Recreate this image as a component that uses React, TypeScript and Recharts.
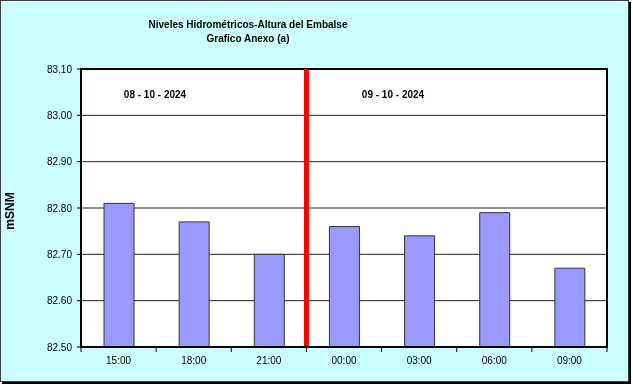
import React from 'react';
import { ComposedChart, Bar, XAxis, YAxis, CartesianGrid, ReferenceLine, ReferenceArea } from 'recharts';

const times = ['15:00', '18:00', '21:00', '00:00', '03:00', '06:00', '09:00'];
const levels = [82.81, 82.77, 82.7, 82.76, 82.74, 82.79, 82.67];
const yTicks = [82.5, 82.6, 82.7, 82.8, 82.9, 83.0, 83.1];
const dayLabels = ['08 - 10 - 2024', '09 - 10 - 2024'];
const dayBoundary = 2.5;
const titleLines = ['Niveles Hidrométricos-Altura del Embalse', 'Grafico Anexo (a)'];
const yLabel = 'mSNM';

const data = times.map((t, i) => ({ pos: i, time: t, level: levels[i] }));
const xTicks = times.flatMap((_, i) => [i - 0.5, i]).concat([times.length - 0.5]);

const FONT = '"Liberation Sans", Arial, sans-serif';

function XTick(props: any) {
  const { x, y, payload } = props;
  const v = payload.value;
  if (Number.isInteger(v)) {
    return (
      <text x={x} y={y + 17} textAnchor="middle" fontSize={10} fill="#000" fontFamily={FONT}>
        {times[v]}
      </text>
    );
  }
  return <line x1={x} x2={x} y1={y} y2={y + 5} stroke="#000" strokeWidth={1} />;
}

export default function App() {
  return (
    <div style={{ position: 'fixed', left: 0, top: 0, width: 633, height: 386, fontFamily: FONT }}>
      <div
        style={{
          position: 'absolute',
          left: 0,
          top: 0,
          width: 627,
          height: 380,
          background: '#CCFFFF',
          border: '1px solid #404040',
          boxShadow: '2px 2px 0 #000',
        }}
      />
      <ComposedChart
        width={633}
        height={386}
        data={data}
        margin={{ top: 69, right: 26, bottom: 9, left: 0 }}
        style={{ position: 'absolute', left: 0, top: 0 }}
      >
        <CartesianGrid horizontal vertical={false} stroke="#222" fill="#fff" strokeOpacity={1} />
        <XAxis
          dataKey="pos"
          type="number"
          domain={[-0.5, times.length - 0.5]}
          ticks={xTicks}
          interval={0}
          tick={<XTick />}
          tickLine={false}
          tickSize={0}
          tickMargin={0}
          height={30}
          axisLine={{ stroke: '#000', strokeWidth: 2 }}
        />
        <YAxis
          type="number"
          domain={[82.5, 83.1]}
          ticks={yTicks}
          interval={0}
          width={81}
          tickSize={4}
          tickMargin={5}
          tickFormatter={(v: number) => v.toFixed(2)}
          tick={{ fontSize: 10, fill: '#000', fontFamily: FONT }}
          tickLine={{ stroke: '#000' }}
          axisLine={{ stroke: '#000', strokeWidth: 2 }}
        />
        <Bar dataKey="level" fill="#9999FF" stroke="#333" strokeWidth={1} barSize={30} isAnimationActive={false} />
        <ReferenceLine x={dayBoundary} stroke="#FF0000" strokeWidth={5} />
        <ReferenceArea
          x1={-0.5}
          x2={times.length - 0.5}
          y1={82.5}
          y2={83.1}
          fill="none"
          fillOpacity={0}
          stroke="#000"
          strokeWidth={2}
          strokeOpacity={1}
        />
      </ComposedChart>
      {titleLines.map((t, i) => (
        <div
          key={t}
          style={{
            position: 'absolute',
            left: 148,
            width: 200,
            top: 19 + i * 14,
            textAlign: 'center',
            fontSize: 10,
            fontWeight: 'bold',
            lineHeight: '12px',
            whiteSpace: 'nowrap',
            color: '#000',
          }}
        >
          {t}
        </div>
      ))}
      {dayLabels.map((t, i) => (
        <div
          key={t}
          style={{
            position: 'absolute',
            left: i === 0 ? 105 : 343,
            width: 100,
            top: 89,
            textAlign: 'center',
            fontSize: 10,
            fontWeight: 'bold',
            lineHeight: '12px',
            whiteSpace: 'nowrap',
            color: '#000',
          }}
        >
          {t}
        </div>
      ))}
      <div
        style={{
          position: 'absolute',
          left: 10 - 25,
          top: 211 - 7,
          width: 50,
          height: 14,
          lineHeight: '14px',
          textAlign: 'center',
          fontSize: 12,
          fontWeight: 'bold',
          transform: 'rotate(-90deg)',
          color: '#000',
        }}
      >
        {yLabel}
      </div>
    </div>
  );
}
